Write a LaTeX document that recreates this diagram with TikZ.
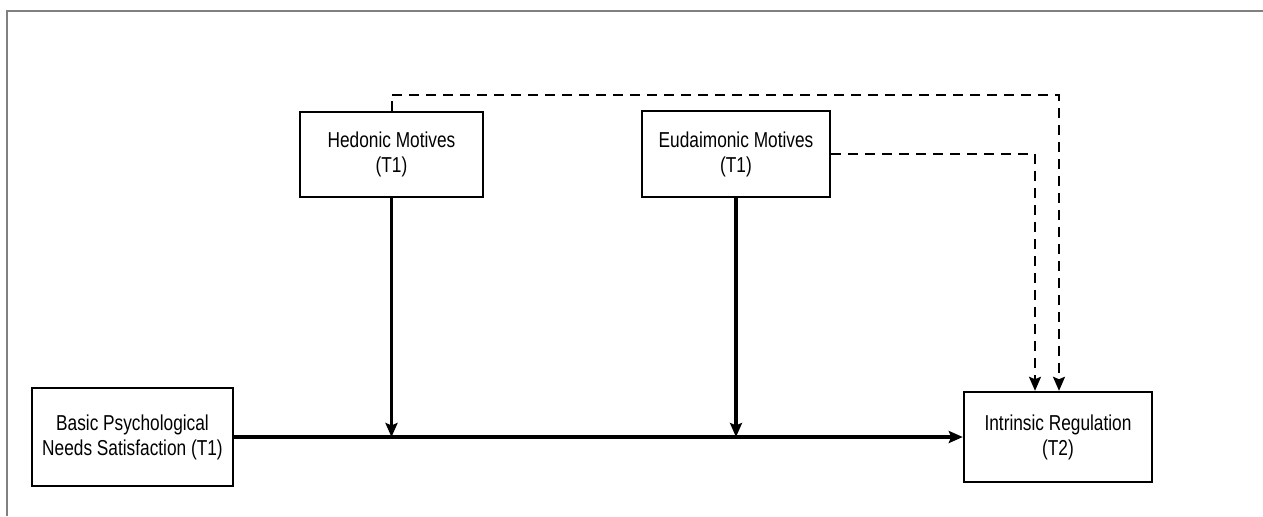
\documentclass[tikz,border=0pt]{standalone}
\usepackage{fontspec}
\setmainfont{Liberation Sans}[FakeStretch=0.8]
\usetikzlibrary{arrows.meta}

\begin{document}
\begin{tikzpicture}[x=0.5pt,y=-0.5pt,
    box/.style={draw, line width=0.6pt, align=center, inner sep=0pt,
        font=\fontsize{10.8}{12.5}\selectfont},
    heavybox/.style={box, line width=1.2pt},
    link/.style={line width=1.7pt, -{Stealth[length=7pt,width=6pt,inset=1.2pt]}},
    dashlink/.style={line width=1pt, dash pattern=on 5pt off 3.5pt,
        -{Stealth[length=7pt,width=6pt,inset=1.2pt]}}]
    \useasboundingbox (0,0) rectangle (1263,516);

    % Frame
    \draw[gray, line width=0.7pt] (7,516) -- (7,11) -- (1263,11);

    % Boxes
    \node[box, minimum width=91.5pt, minimum height=42.5pt] (hed) at (391.5,154.5) {Hedonic Motives\\(T1)};
    \node[heavybox, minimum width=94pt, minimum height=43pt] (eud) at (736,154) {Eudaimonic Motives\\(T1)};
    \node[box, minimum width=100.5pt, minimum height=49pt] (bpns) at (132.5,437) {Basic Psychological\\Needs Satisfaction (T1)};
    \node[heavybox, minimum width=94pt, minimum height=45pt] (intr) at (1058,437) {Intrinsic Regulation\\(T2)};

    % Main path and moderators
    \draw[link] (bpns.east) -- (intr.west);
    \draw[link] (hed.south) -- (hed.south |- bpns.east);
    \draw[link] (eud.south) -- (eud.south |- bpns.east);

    % Direct effects
    \coordinate (hedbend) at (1059,95);
    \coordinate (eudbend) at (1035,154);
    \draw[dashlink] (hed.north) |- (hedbend) -- (hedbend |- intr.north);
    \draw[dashlink] (eud.east) -- (eudbend) -- (eudbend |- intr.north);
\end{tikzpicture}
\end{document}
